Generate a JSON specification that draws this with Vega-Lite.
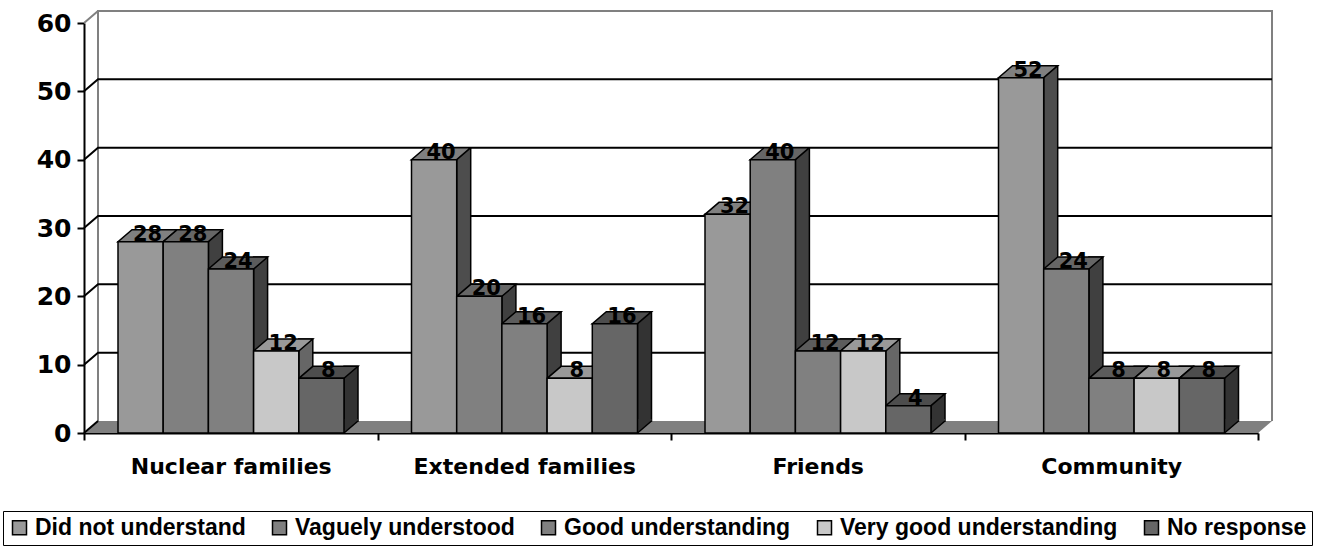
{
  "$schema": "https://vega.github.io/schema/vega-lite/v6.json",
  "width": 1174,
  "height": 410,
  "autosize": {"type": "none"},
  "padding": {"left": 84, "top": 23, "right": 59, "bottom": 119},
  "background": "white",
  "config": {
    "view": {"stroke": null},
    "font": "Liberation Sans",
    "axis": {"labelFont": "DejaVu Sans", "labelFontWeight": "bold", "labelColor": "black", "domainColor": "black", "tickColor": "black", "domainWidth": 2, "tickWidth": 2, "grid": false, "title": null},
    "axisX": {"labelAngle": 0, "labelFontSize": 22, "labelPadding": 16, "tickSize": 7, "tickBand": "extent", "labelOverlap": false, "labelLimit": 400},
    "axisY": {"labelFontSize": 25, "labelPadding": 6, "tickSize": 7, "tickCount": 6}
  },
  "datasets": {
    "bars": [
      {"group": "Nuclear families", "series": "Did not understand", "value": 28},
      {"group": "Nuclear families", "series": "Vaguely understood", "value": 28},
      {"group": "Nuclear families", "series": "Good understanding", "value": 24},
      {"group": "Nuclear families", "series": "Very good understanding", "value": 12},
      {"group": "Nuclear families", "series": "No response", "value": 8},
      {"group": "Extended families", "series": "Did not understand", "value": 40},
      {"group": "Extended families", "series": "Vaguely understood", "value": 20},
      {"group": "Extended families", "series": "Good understanding", "value": 16},
      {"group": "Extended families", "series": "Very good understanding", "value": 8},
      {"group": "Extended families", "series": "No response", "value": 16},
      {"group": "Friends", "series": "Did not understand", "value": 32},
      {"group": "Friends", "series": "Vaguely understood", "value": 40},
      {"group": "Friends", "series": "Good understanding", "value": 12},
      {"group": "Friends", "series": "Very good understanding", "value": 12},
      {"group": "Friends", "series": "No response", "value": 4},
      {"group": "Community", "series": "Did not understand", "value": 52},
      {"group": "Community", "series": "Vaguely understood", "value": 24},
      {"group": "Community", "series": "Good understanding", "value": 8},
      {"group": "Community", "series": "Very good understanding", "value": 8},
      {"group": "Community", "series": "No response", "value": 8}
    ],
    "grid": [{"v": 10}, {"v": 20}, {"v": 30}, {"v": 40}, {"v": 50}],
    "base": [{"v": 0}]
  },
  "layer": [
    {
      "data": {"name": "base"},
      "mark": {"type": "point", "shape": "M -440.25 0 L 733.75 0 L 747.75 -12 L -426.25 -12 Z", "size": 4, "filled": true, "fill": "#808080", "strokeWidth": 0, "opacity": 1},
      "encoding": {
        "x": {"datum": "Extended families", "type": "nominal", "scale": {"domain": ["Nuclear families", "Extended families", "Friends", "Community"], "paddingInner": 0, "paddingOuter": 0}},
        "y": {"field": "v", "type": "quantitative", "scale": {"domain": [0, 60], "nice": false}}
      }
    },
    {
      "data": {"name": "base"},
      "mark": {"type": "point", "shape": "M -132.75 -12 L -132.75 -422 L 1041.25 -422 L 1041.25 -12 M -146.75 -410 L -132.75 -422", "size": 4, "filled": false, "stroke": "#808080", "strokeWidth": 2, "opacity": 1},
      "encoding": {
        "x": {"datum": "Nuclear families", "type": "nominal"},
        "y": {"field": "v", "type": "quantitative"}
      }
    },
    {
      "data": {"name": "base"},
      "mark": {"type": "point", "shape": "M -146.75 0 L -132.75 -12", "size": 4, "filled": false, "stroke": "black", "strokeWidth": 2, "opacity": 1},
      "encoding": {
        "x": {"datum": "Nuclear families", "type": "nominal"},
        "y": {"field": "v", "type": "quantitative"}
      }
    },
    {
      "data": {"name": "grid"},
      "mark": {"type": "point", "shape": "M -146.75 0 L -132.75 -12 L 1041.25 -12", "size": 4, "filled": false, "stroke": "black", "strokeWidth": 2, "opacity": 1},
      "encoding": {
        "x": {"datum": "Nuclear families", "type": "nominal"},
        "y": {"field": "v", "type": "quantitative"}
      }
    },
    {
      "data": {"name": "bars"},
      "mark": {"type": "bar", "yOffset": -12, "y2Offset": -12, "stroke": "black", "strokeWidth": 1.5},
      "encoding": {
        "x": {"field": "group", "type": "nominal"},
        "xOffset": {"field": "series", "type": "nominal", "scale": {"type": "band", "domain": ["Did not understand", "Vaguely understood", "Good understanding", "Very good understanding", "No response"], "range": [79.2, 274.0], "paddingInner": 0.69027, "paddingOuter": 0}},
        "y": {"field": "value", "type": "quantitative"},
        "y2": {"datum": 0},
        "fill": {"field": "series", "type": "nominal", "scale": {"domain": ["Did not understand", "Vaguely understood", "Good understanding", "Very good understanding", "No response"], "range": ["#4d4d4d", "#404040", "#404040", "#666666", "#333333"]}, "legend": null}
      }
    },
    {
      "data": {"name": "bars"},
      "mark": {"type": "point", "shape": "M 22.6 -14 L 22.6 0 L 36.6 -12 L 36.6 -14 Z", "size": 4, "filled": true, "strokeWidth": 0, "opacity": 1},
      "encoding": {
        "x": {"field": "group", "type": "nominal"},
        "xOffset": {"field": "series", "type": "nominal", "scale": {"type": "point", "domain": ["Did not understand", "Vaguely understood", "Good understanding", "Very good understanding", "No response"], "range": [56.6, 237.4], "padding": 0}},
        "y": {"datum": 0, "type": "quantitative"},
        "fill": {"field": "series", "type": "nominal", "scale": {"domain": ["Did not understand", "Vaguely understood", "Good understanding", "Very good understanding", "No response"], "range": ["#4d4d4d", "#404040", "#404040", "#666666", "#333333"]}, "legend": null}
      }
    },
    {
      "data": {"name": "bars"},
      "mark": {"type": "point", "shape": "M 22.6 0 L 36.6 -12", "size": 4, "filled": false, "stroke": "black", "strokeWidth": 1.5, "opacity": 1},
      "encoding": {
        "x": {"field": "group", "type": "nominal"},
        "xOffset": {"field": "series", "type": "nominal", "scale": {"type": "point", "domain": ["Did not understand", "Vaguely understood", "Good understanding", "Very good understanding", "No response"], "range": [56.6, 237.4], "padding": 0}},
        "y": {"datum": 0, "type": "quantitative"}
      }
    },
    {
      "data": {"name": "bars"},
      "mark": {"type": "point", "shape": "M -22.6 0 L 22.6 0 L 36.6 -12 L -8.6 -12 Z", "size": 4, "filled": true, "stroke": "black", "strokeWidth": 1.5, "opacity": 1},
      "encoding": {
        "x": {"field": "group", "type": "nominal"},
        "xOffset": {"field": "series", "type": "nominal", "scale": {"type": "point", "domain": ["Did not understand", "Vaguely understood", "Good understanding", "Very good understanding", "No response"], "range": [56.6, 237.4], "padding": 0}},
        "y": {"field": "value", "type": "quantitative"},
        "fill": {"field": "series", "type": "nominal", "scale": {"domain": ["Did not understand", "Vaguely understood", "Good understanding", "Very good understanding", "No response"], "range": ["#808080", "#666666", "#5c5c5c", "#999999", "#4d4d4d"]}, "legend": null}
      }
    },
    {
      "data": {"name": "bars"},
      "mark": {"type": "bar", "stroke": "black", "strokeWidth": 1.5},
      "encoding": {
        "x": {"field": "group", "type": "nominal"},
        "xOffset": {"field": "series", "type": "nominal", "scale": {"type": "band", "domain": ["Did not understand", "Vaguely understood", "Good understanding", "Very good understanding", "No response"], "range": [34, 260], "paddingInner": 0, "paddingOuter": 0}},
        "y": {"field": "value", "type": "quantitative"},
        "fill": {
          "field": "series", "type": "nominal",
          "scale": {"domain": ["Did not understand", "Vaguely understood", "Good understanding", "Very good understanding", "No response"], "range": ["#999999", "#808080", "#808080", "#c8c8c8", "#666666"]},
          "legend": {"title": null, "orient": "none", "legendX": -81, "legendY": 488, "direction": "horizontal", "symbolType": "square", "symbolSize": 196, "symbolStrokeColor": "black", "symbolStrokeWidth": 1.5, "labelFont": "Liberation Sans", "labelFontWeight": "bold", "labelFontSize": 23, "labelColor": "black", "labelOffset": 4, "columnPadding": 22, "strokeColor": "black", "padding": 5, "labelLimit": 400}
        }
      }
    },
    {
      "data": {"name": "bars"},
      "mark": {"type": "text", "dx": 7, "dy": -1, "baseline": "alphabetic", "align": "center", "fontSize": 21, "fontWeight": "bold", "font": "DejaVu Sans", "color": "black"},
      "encoding": {
        "x": {"field": "group", "type": "nominal"},
        "xOffset": {"field": "series", "type": "nominal", "scale": {"type": "point", "domain": ["Did not understand", "Vaguely understood", "Good understanding", "Very good understanding", "No response"], "range": [56.6, 237.4], "padding": 0}},
        "y": {"field": "value", "type": "quantitative"},
        "text": {"field": "value", "type": "quantitative"}
      }
    }
  ],
  "resolve": {"scale": {"fill": "independent", "xOffset": "independent"}}
}
